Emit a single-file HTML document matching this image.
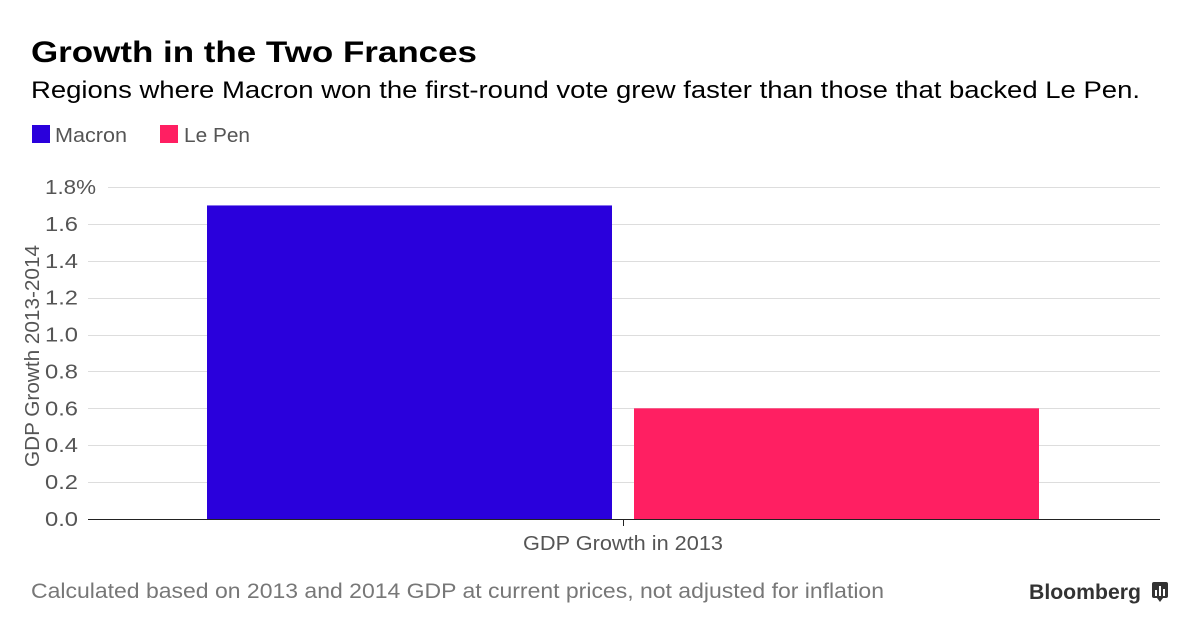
<!DOCTYPE html>
<html><head><meta charset="utf-8"><style>
body{margin:0;background:#fff;width:1200px;height:635px;overflow:hidden;font-family:"Liberation Sans",Arial,sans-serif;}
svg{display:block}
</style></head><body>
<svg width="1200" height="635" xmlns="http://www.w3.org/2000/svg" font-family="Liberation Sans, Arial, sans-serif">
<text x="31" y="62" font-size="30" font-weight="bold" fill="#000" textLength="446" lengthAdjust="spacingAndGlyphs">Growth in the Two Frances</text>
<text x="31" y="98" font-size="24" fill="#000" textLength="1109" lengthAdjust="spacingAndGlyphs">Regions where Macron won the first-round vote grew faster than those that backed Le Pen.</text>
<g>
<rect x="32" y="125" width="18" height="18" fill="#2a00dc"/>
<text x="55" y="142" font-size="20" fill="#555" textLength="72" lengthAdjust="spacingAndGlyphs">Macron</text>
<rect x="160" y="125" width="18" height="18" fill="#ff1f62"/>
<text x="184" y="142" font-size="20" fill="#555" textLength="66" lengthAdjust="spacingAndGlyphs">Le Pen</text>
</g>
<g id="grid"></g>
<g id="bars"></g>
<line x1="88" y1="519.5" x2="1160" y2="519.5" stroke="#222" stroke-width="1"/>
<line x1="623.5" y1="519" x2="623.5" y2="526" stroke="#222" stroke-width="1"/>
<text x="623" y="550" font-size="20" fill="#555" text-anchor="middle" textLength="200" lengthAdjust="spacingAndGlyphs">GDP Growth in 2013</text>
<text transform="translate(39,356) rotate(-90)" font-size="20" fill="#555" text-anchor="middle" textLength="222" lengthAdjust="spacingAndGlyphs">GDP Growth 2013-2014</text>
<text x="31" y="598" font-size="21" fill="#777" textLength="853" lengthAdjust="spacingAndGlyphs">Calculated based on 2013 and 2014 GDP at current prices, not adjusted for inflation</text>
<text x="1029" y="599" font-size="21" font-weight="bold" fill="#333" textLength="112" lengthAdjust="spacingAndGlyphs">Bloomberg</text>
<g>
<rect x="1152" y="582" width="16" height="16" rx="2" fill="#333"/>
<polygon points="1157,598 1163,598 1160,602" fill="#333"/>
<rect x="1155" y="590" width="2" height="6" fill="#fff"/>
<rect x="1159" y="586" width="2" height="10" fill="#fff"/>
<rect x="1163" y="589" width="2" height="7" fill="#fff"/>
</g>
</svg>
<script>
const yTicks=[0,0.2,0.4,0.6,0.8,1.0,1.2,1.4,1.6,1.8];
const yTickLabels=["0.0","0.2","0.4","0.6","0.8","1.0","1.2","1.4","1.6","1.8%"];
const seriesNames=["Macron","Le Pen"];
const seriesValues=[1.7,0.6];
const seriesColors=["#2a00dc","#ff1f62"];
const NS="http://www.w3.org/2000/svg";
function y(v){return 519-v*(332/1.8);}
const grid=document.getElementById('grid');
yTicks.forEach((t,i)=>{
  const gy=Math.round(y(t))+0.5;
  if(i>0){
    const l=document.createElementNS(NS,'line');
    
    
    l.setAttribute('x1',i===yTicks.length-1?108:88);l.setAttribute('x2',1160);
    l.setAttribute('y1',gy);l.setAttribute('y2',gy);
    l.setAttribute('stroke','#ddd');l.setAttribute('stroke-width','1');
    grid.appendChild(l);
  }
  const tx=document.createElementNS(NS,'text');
  
  
  tx.setAttribute('x',45);tx.setAttribute('y',y(t)+7);
  tx.setAttribute('font-size','20');tx.setAttribute('fill','#555');
  tx.setAttribute('textLength',i===yTicks.length-1?51:33);
  tx.setAttribute('lengthAdjust','spacingAndGlyphs');
  tx.textContent=yTickLabels[i];
  grid.appendChild(tx);
});
const bars=document.getElementById('bars');
const x0=207,bw=405,gap=22;
seriesValues.forEach((v,i)=>{
  const r=document.createElementNS(NS,'rect');
  
  
  r.setAttribute('x',x0+i*(bw+gap));r.setAttribute('width',bw);
  r.setAttribute('y',y(v));r.setAttribute('height',y(0)-y(v));
  r.setAttribute('fill',seriesColors[i]);
  bars.appendChild(r);
});
</script>
</body></html>
